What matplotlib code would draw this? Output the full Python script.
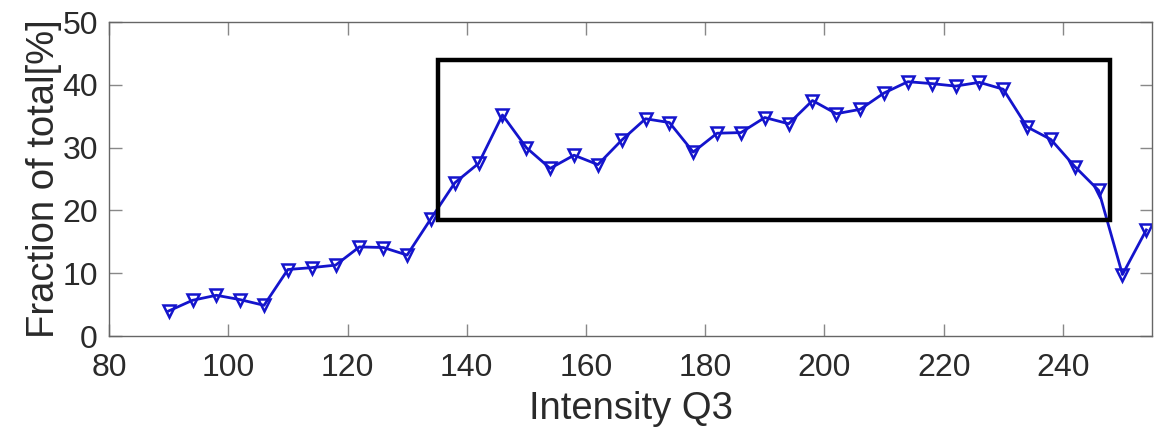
import matplotlib
matplotlib.use("Agg")
import matplotlib.pyplot as plt
from matplotlib.patches import Rectangle

# intensity bins and fraction values
intensity = [90, 94, 98, 102, 106, 110, 114, 118, 122, 126, 130, 134, 138, 142,
             146, 150, 154, 158, 162, 166, 170, 174, 178, 182, 186, 190, 194, 198,
             202, 206, 210, 214, 218, 222, 226, 230, 234, 238, 242, 246, 250, 254]
fraction = [4.0, 5.7, 6.5, 5.8, 4.9, 10.6, 10.9, 11.3, 14.2, 14.1, 12.9, 18.7, 24.4, 27.5,
            35.2, 30.0, 26.7, 28.8, 27.3, 31.2, 34.6, 34.0, 29.3, 32.3, 32.4, 34.8, 33.8, 37.5,
            35.4, 36.1, 38.7, 40.5, 40.2, 39.8, 40.4, 39.3, 33.3, 31.3, 27.0, 23.2, 9.8, 16.9]

# highlighted region (x0, x1, y0, y1)
box_x = [135.2, 247.9]
box_y = [18.5, 44.0]

plt.rcParams['font.family'] = ['Liberation Sans', 'DejaVu Sans']

fig = plt.figure(figsize=(11.54, 4.32), dpi=100)
ax = fig.add_axes([0.0945, 0.222, 0.904, 0.727])

ax.plot(intensity, fraction, color='#1414cc', linewidth=2.0,
        marker='v', markersize=8, markerfacecolor='none',
        markeredgecolor='#1414cc', markeredgewidth=1.8)

ax.add_patch(Rectangle((box_x[0], box_y[0]), box_x[1] - box_x[0], box_y[1] - box_y[0],
                       fill=False, edgecolor='black', linewidth=3.2, zorder=3))

ax.set_xlim(80, 255)
ax.set_ylim(0, 50)
ax.set_xticks(range(80, 241, 20))
ax.set_yticks(range(0, 51, 10))

for s in ax.spines.values():
    s.set_color('#666666')
    s.set_linewidth(1.0)
ax.tick_params(direction='in', length=9, width=1.0, color='#888888',
               top=True, right=True, labelsize=23, labelcolor='#2a2a2a')
ax.tick_params(axis='x', pad=12)
ax.tick_params(axis='y', pad=8)

ax.set_xlabel('Intensity Q3', fontsize=27.5, color='#2a2a2a', labelpad=6)
ax.set_ylabel('Fraction of total[%]', fontsize=27.5, color='#2a2a2a', labelpad=0)

fig.savefig('out.png', dpi=100)
